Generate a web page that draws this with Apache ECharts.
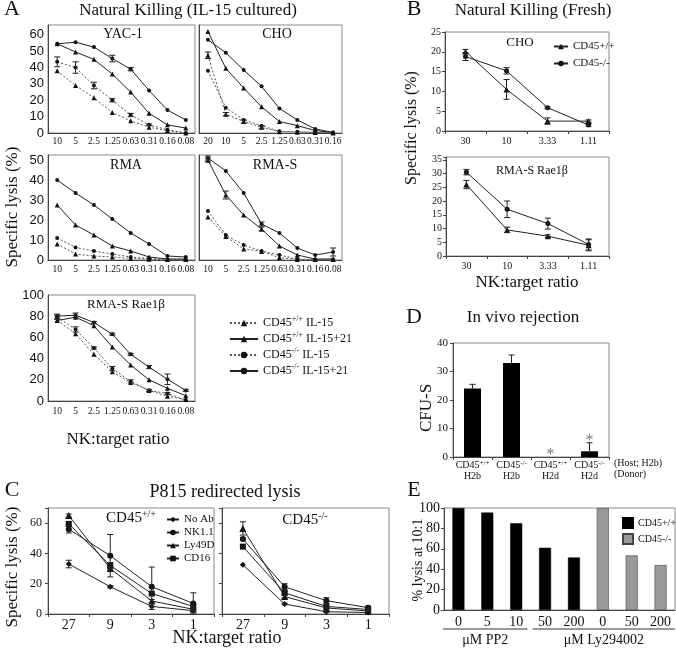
<!DOCTYPE html>
<html><head><meta charset="utf-8">
<script src="https://cdn.jsdelivr.net/npm/echarts@6/dist/echarts.min.js"></script>
<style>html,body{margin:0;background:#fff}#c{width:676px;height:648px}</style>
</head><body><div id="c"></div>
<script>
const SERIF = "'Liberation Serif','Times New Roman',serif";
const SANS = "'Liberation Sans Narrow','Liberation Sans',Arial,sans-serif";

// ---------- Panel A data ----------
const aNames = ['CD45+/+ IL-15','CD45+/+ IL-15+21','CD45-/- IL-15','CD45-/- IL-15+21'];
const aCats = ['10','5','2.5','1.25','0.63','0.31','0.16','0.08'];
const aCatsCHO = ['20','10','5','2.5','1.25','0.63','0.31','0.16'];
// order: WT IL-15, WT IL-15+21, KO IL-15, KO IL-15+21
const yacWT15   = [38, 29, 21.5, 12.5, 7.5, 3.5, 1.5, 0];
const yacWT1521 = [54.5, 49.5, 45, 36, 25, 12, 5, 3];
const yacKO15   = [43.5, 40, 29, 20, 11, 5, 2, 0];
const yacKO1521 = [54.5, 55.5, 52.5, 45.5, 39, 26, 14, 8];
const yacErrKO15   = [3, 3.5, 2, 1, 1, 0.5, 0, 0];
const yacErrKO1521 = [0, 0, 0, 2, 1, 0, 0, 0];
const choWT15   = [47.5, 11.5, 7, 3.5, 0.8, 0.5, 0.3, 0];
const choWT1521 = [62, 39.5, 27.5, 16, 7, 4.5, 1.5, 0.3];
const choKO15   = [38, 15.5, 8, 4.5, 1, 0.8, 0.5, 0];
const choKO1521 = [57, 49, 38.5, 28.5, 15, 8, 2.5, 0.3];
const choErrWT15 = [2, 1, 1, 1, 0, 0, 0, 0];
const rmaWT15   = [8, 3, 2, 1.5, 0.8, 0.4, 0.2, 0.2];
const rmaWT1521 = [27.5, 17.5, 12.5, 7, 4.5, 1.5, 0.5, 0.5];
const rmaKO15   = [11, 6.3, 4.5, 3, 1.5, 0.7, 0.3, 0.3];
const rmaKO1521 = [40, 33.5, 27.5, 20.5, 13.5, 8, 2, 1.5];
const rmasWT15   = [21.5, 11.8, 5.5, 4.3, 1.2, 0.3, 0.2, 0.2];
const rmasWT1521 = [50, 32.5, 22.5, 15.5, 7, 2.5, 0.5, 0.5];
const rmasKO15   = [24.5, 12.5, 7.5, 4.5, 2.5, 0.5, 0.3, 0.3];
const rmasKO1521 = [51, 44.5, 33.5, 18, 13.5, 6, 2.5, 4];
const rmasErrWT1521 = [1, 2, 0, 1, 0, 0, 0, 0];
const rmasErrKO1521 = [1, 0, 0, 1, 0, 0, 0, 2];
const raeWT15   = [76, 63.5, 44, 27.5, 17.5, 10, 4.5, 1.3];
const raeWT1521 = [76, 79, 71, 51, 34, 20, 12, 5];
const raeKO15   = [79, 67.5, 50, 30.5, 18.5, 10, 7, 0.6];
const raeKO1521 = [80, 81, 74, 63, 44, 32, 20.5, 10];
const raeErrKO15   = [2, 2.5, 1, 2, 1.5, 1, 1, 0];
const raeErrKO1521 = [2, 2, 1, 1, 1, 1.5, 5, 1];

// ---------- Panel B data ----------
const bNames = ['CD45+/+', 'CD45-/-'];
const bCats = ['30', '10', '3.33', '1.11'];
const bChoWT = [20.1, 10.5, 2.5, 2.5];
const bChoWTErr = [0.5, 2.5, 0.8, 0.3];
const bChoKO = [18.8, 15.2, 5.9, 1.5];
const bChoKOErr = [1, 0.8, 0.2, 0.3];
const bRaeWT = [26, 9.5, 7.2, 3.9];
const bRaeWTErr = [1.5, 1, 0.5, 2];
const bRaeKO = [30.5, 17, 11.8, 4.2];
const bRaeKOErr = [1, 3, 2, 2];

// ---------- Panel C data ----------
const cNames = ['No Ab', 'NK1.1', 'Ly49D', 'CD16'];
const cCats = ['27', '9', '3', '1'];
const cWT = [[33, 18, 5, 2.2], [56, 38.5, 18, 7], [65, 30, 8.6, 3.1], [59.5, 32, 13.5, 5]];
const cWTErr = [[2.5, 0.8, 2, 0.5], [2.5, 14, 13, 7], [1, 1, 1, 0.5], [1.5, 2, 1, 0.5]];
const cKO = [[32.5, 6.6, 1.5, 1], [49.5, 18, 8.8, 4.2], [56.5, 11.5, 4, 2], [44.5, 14, 5, 3]];
const cKOErr = [[0, 0.5, 0.5, 0], [1, 2, 2, 1], [4.4, 1, 0.5, 0.3], [0, 1, 1, 0.5]];

// ---------- Panel D data ----------
const dHost = ['+/+', '-/-', '+/+', '-/-'];
const dDonor = ['H2b', 'H2b', 'H2d', 'H2d'];
const dValues = [24, 33, 0, 2];
const dErr = [1.5, 2.8, 0, 3];
const dSig = [0, 0, 1, 1];

// ---------- Panel E data ----------
const eNames = ['CD45+/+', 'CD45-/-'];
const eCats = ['0', '5', '10', '50', '200', '0', '50', '200'];
const eWT = [100, 95.5, 85, 61, 51.5, '-', '-', '-'];
const eKO = ['-', '-', '-', '-', '-', 100, 53.5, 44];
const eGroups = [{label: 'μM PP2', from: 0, to: 2}, {label: 'μM Ly294002', from: 3, to: 7}];

// ---------- builders ----------
const grids = [], xAxes = [], yAxes = [], series = [];
function panel(rect, cats, yMax, yInt, o) {
  const i = grids.length;
  grids.push(Object.assign({show: true, borderColor: '#8a8a8a', borderWidth: 1}, rect));
  xAxes.push({type: 'category', gridIndex: i, data: cats, boundaryGap: true,
    axisLine: {lineStyle: {color: '#444', width: 1}},
    axisTick: {show: !!o.xTick, length: 3, lineStyle: {color: '#444'}},
    axisLabel: {interval: 0, fontFamily: o.xFont || SERIF, fontSize: o.xSize || 10, color: '#111',
      margin: o.xMargin != null ? o.xMargin : 3, formatter: o.xFmt, rich: o.xRich}});
  yAxes.push({type: 'value', gridIndex: i, min: 0, max: yMax, interval: yInt, splitLine: {show: false},
    axisLine: {show: true, lineStyle: {color: '#444'}},
    axisTick: {show: !!o.yTick, length: 3, lineStyle: {color: '#444'}},
    axisLabel: {show: o.yLabels !== false, fontFamily: o.yFont || SERIF, fontSize: o.ySize || 11, color: '#111',
      margin: o.yMargin != null ? o.yMargin : 4,
      formatter: v => (Math.abs(v / yInt - Math.round(v / yInt)) < 1e-9 ? String(v) : '')}});
  return i;
}
function errSeries(gi, data, err, upOnly, sig) {
  return {type: 'custom', xAxisIndex: gi, yAxisIndex: gi, silent: true, animation: false, z: 5,
    encode: {x: 0, y: 1},
    data: data.map((v, j) => [j, v === '-' ? 0 : v, err ? err[j] : 0, sig ? sig[j] : 0]),
    renderItem: (p, api) => {
      const x = api.value(0), v = api.value(1), e = api.value(2), s = api.value(3);
      const ch = [];
      const top = api.coord([x, v + e]);
      const st = {stroke: '#222', lineWidth: 1};
      if (e > 0) {
        const bot = api.coord([x, upOnly ? v : Math.max(0, v - e)]);
        ch.push({type: 'line', shape: {x1: top[0], y1: top[1], x2: bot[0], y2: bot[1]}, style: st});
        ch.push({type: 'line', shape: {x1: top[0] - 3, y1: top[1], x2: top[0] + 3, y2: top[1]}, style: st});
        if (!upOnly) ch.push({type: 'line', shape: {x1: bot[0] - 3, y1: bot[1], x2: bot[0] + 3, y2: bot[1]}, style: st});
      }
      if (s) ch.push({type: 'text', x: top[0], y: top[1] - 2,
        style: {text: '*', font: '16px ' + SERIF, fill: '#777', align: 'center', verticalAlign: 'middle',
                textAlign: 'center', textVerticalAlign: 'middle'}});
      return {type: 'group', children: ch};
    }};
}
function line(gi, name, data, sym, dashed, err, size) {
  series.push({type: 'line', name, xAxisIndex: gi, yAxisIndex: gi, data, symbol: sym,
    symbolSize: size || (sym === 'triangle' ? 5 : 4), animation: false, z: 3,
    lineStyle: {color: dashed ? '#555' : '#222', width: 1, type: dashed ? [2, 2] : 'solid'},
    itemStyle: {color: '#111'}});
  if (err) series.push(errSeries(gi, data, err, false));
}
const aSym = ['triangle', 'triangle', 'circle', 'circle'];
const aDash = [true, false, true, false];
function aPanel(rect, cats, yMax, yInt, sets, errs, showY, xMargin) {
  const gi = panel(rect, cats, yMax, yInt, {yLabels: showY, yFont: SANS, ySize: 13, yMargin: 4,
    xSize: 9.5, xMargin: xMargin});
  sets.forEach((d, k) => line(gi, aNames[k], d, aSym[k], aDash[k], errs ? errs[k] : null));
  return gi;
}
aPanel({left: 48, top: 25, width: 147, height: 108}, aCats, 66, 10,
  [yacWT15, yacWT1521, yacKO15, yacKO1521], [null, null, yacErrKO15, yacErrKO1521], true, 3);
aPanel({left: 199, top: 25, width: 143, height: 108}, aCatsCHO, 66, 10,
  [choWT15, choWT1521, choKO15, choKO1521], [choErrWT15, null, null, null], false, 3);
aPanel({left: 48, top: 155, width: 147, height: 105}, aCats, 52.5, 10,
  [rmaWT15, rmaWT1521, rmaKO15, rmaKO1521], null, true, 4);
aPanel({left: 199, top: 155, width: 143, height: 105}, aCats, 52.5, 10,
  [rmasWT15, rmasWT1521, rmasKO15, rmasKO1521], [null, rmasErrWT1521, null, rmasErrKO1521], false, 4);
aPanel({left: 48, top: 295, width: 147, height: 106}, aCats, 100, 20,
  [raeWT15, raeWT1521, raeKO15, raeKO1521], [null, null, raeErrKO15, raeErrKO1521], true, 5);

// Panel B
function bPanel(rect, yMax, wt, wtErr, ko, koErr) {
  const gi = panel(rect, bCats, yMax, 5, {xTick: true, yTick: true, ySize: 10, xSize: 10, xMargin: 5, yMargin: 4});
  line(gi, bNames[0], wt, 'triangle', false, wtErr, 6);
  line(gi, bNames[1], ko, 'circle', false, koErr, 5);
}
bPanel({left: 445, top: 32, width: 164, height: 99}, 25, bChoWT, bChoWTErr, bChoKO, bChoKOErr);
bPanel({left: 446, top: 157, width: 163, height: 99}, 36, bRaeWT, bRaeWTErr, bRaeKO, bRaeKOErr);

// Panel D
const dCats = dHost.map((h, i) => h + '|' + dDonor[i]);
const dGi = panel({left: 453, top: 343, width: 156, height: 114}, dCats, 40, 10, {
  xTick: true, yTick: true, ySize: 11, xSize: 10, xMargin: 3, yMargin: 5,
  xFmt: v => { const p = v.split('|'); return '{a|CD45}{s|' + p[0] + '}\n{a|' + p[1] + '}'; },
  xRich: {a: {fontFamily: SERIF, fontSize: 10, color: '#111', lineHeight: 11},
          s: {fontFamily: SERIF, fontSize: 7, color: '#111', verticalAlign: 'top', lineHeight: 8}}});
series.push({type: 'bar', xAxisIndex: dGi, yAxisIndex: dGi, data: dValues, barWidth: 17, animation: false,
  itemStyle: {color: '#000'}, z: 2});
series.push(errSeries(dGi, dValues, dErr, true, dSig));

// Panel E
const eGi = panel({left: 444, top: 508, width: 231, height: 102}, eCats, 100, 20, {
  xTick: false, yTick: true, ySize: 14, xSize: 14, xMargin: 5, yMargin: 4});
series.push({type: 'bar', name: 'E ' + eNames[0], xAxisIndex: eGi, yAxisIndex: eGi, data: eWT, barWidth: 12,
  barGap: '-100%', animation: false, itemStyle: {color: '#000', borderColor: '#000', borderWidth: 0.5}});
series.push({type: 'bar', name: 'E ' + eNames[1], xAxisIndex: eGi, yAxisIndex: eGi, data: eKO, barWidth: 12,
  barGap: '-100%', animation: false, itemStyle: {color: '#9a9a9a', borderColor: '#444', borderWidth: 0.6}});

// Panel C
const cSym = ['diamond', 'circle', 'triangle', 'rect'];
const cSize = [6, 6, 7, 6];
function cPanel(rect, sets, errs, showY) {
  const gi = panel(rect, cCats, 70, 20, {xTick: true, yTick: true, yLabels: showY, ySize: 12, xSize: 14, xMargin: 4, yMargin: 6});
  sets.forEach((d, k) => line(gi, cNames[k], d, cSym[k], false, errs[k], cSize[k]));
}
cPanel({left: 48, top: 508, width: 166, height: 106}, cWT, cWTErr, true);
cPanel({left: 222, top: 508, width: 167, height: 106}, cKO, cKOErr, false);

// ---------- legends ----------
const supRich = {a: {fontFamily: SERIF, fontSize: 12, color: '#111', lineHeight: 16},
                 s: {fontFamily: SERIF, fontSize: 8, color: '#111', verticalAlign: 'top', lineHeight: 10}};
const legends = [
  {data: aNames, orient: 'vertical', left: 224, top: 310, itemWidth: 28, itemHeight: 8, itemGap: 2,
   selectedMode: false, textStyle: {fontFamily: SERIF, fontSize: 12, color: '#111', rich: supRich},
   formatter: n => { const m = n.match(/^CD45(\S+)\s(.+)$/); return '{a|CD45}{s|' + m[1] + '}{a| ' + m[2] + '}'; }},
  {data: bNames, orient: 'vertical', left: 548, top: 36, itemWidth: 14, itemHeight: 7, itemGap: 6,
   selectedMode: false, textStyle: {fontFamily: SERIF, fontSize: 11, color: '#111'}},
  {data: cNames, orient: 'vertical', left: 161, top: 509, itemWidth: 12, itemHeight: 7, itemGap: 2,
   selectedMode: false, textStyle: {fontFamily: SERIF, fontSize: 11, color: '#111'}},
  {data: eNames.map(n => 'E ' + n), orient: 'vertical', left: 617, top: 512, itemWidth: 10, itemHeight: 10, itemGap: 4,
   icon: 'rect', selectedMode: false, textStyle: {fontFamily: SERIF, fontSize: 10, color: '#111'},
   formatter: n => n.slice(2)}
];

// ---------- text ----------
function T(text, x, y, size, o) {
  o = o || {};
  return {type: 'text', x, y, rotation: o.rot || 0, z: 10,
    style: {text, font: size + 'px ' + SERIF, fill: o.fill || '#111', align: o.align || 'center',
      verticalAlign: 'middle', textAlign: o.align || 'center', textVerticalAlign: 'middle', rich: o.rich}};
}
const R = Math.PI / 2;
const bigRich = {a: {fontFamily: SERIF, fontSize: 15, color: '#111', lineHeight: 18},
                 s: {fontFamily: SERIF, fontSize: 10, color: '#111', verticalAlign: 'top', lineHeight: 11}};
const graphics = [
  T('A', 12, 9, 22), T('Natural Killing (IL-15 cultured)', 188, 11, 17),
  T('B', 414, 9, 22), T('Natural Killing (Fresh)', 533, 11, 17),
  T('D', 414, 317, 22), T('In vivo rejection', 523, 318, 17),
  T('C', 12, 490, 22), T('P815 redirected lysis', 225, 492, 18),
  T('E', 414, 490, 22),
  T('Specific lysis (%)', 13, 207, 17, {rot: R}),
  T('Specific lysis (%)', 412, 128, 16, {rot: R}),
  T('CFU-S', 427, 408, 17, {rot: R}),
  T('% lysis at 10:1', 418, 560, 14, {rot: R}),
  T('Specific lysis (%)', 13, 567, 17, {rot: R}),
  T('NK:target ratio', 118, 440, 17), T('NK:target ratio', 527, 283, 17), T('NK:target ratio', 227, 638, 18),
  T('YAC-1', 123, 34, 14), T('CHO', 277, 34, 14), T('RMA', 126, 165, 14), T('RMA-S', 275, 165, 14),
  T('RMA-S Rae1β', 126, 305, 13), T('CHO', 520, 43, 13), T('RMA-S Rae1β', 532, 171, 12),
  T('{a|CD45}{s|+/+}', 131, 518, 15, {rich: bigRich}),
  T('{a|CD45}{s|-/-}', 305, 520, 15, {rich: bigRich}),
  T('(Host; H2b)', 638, 463, 10), T('(Donor)', 630, 474, 10)
];

const chart = echarts.init(document.getElementById('c'));
chart.setOption({animation: false, backgroundColor: '#fff', grid: grids, xAxis: xAxes, yAxis: yAxes,
  series, legend: legends, graphic: graphics});

// group labels under panel E
const eRect = grids[eGi];
const band = eRect.width / eCats.length;
eGroups.forEach((g, k) => {
  const c0 = chart.convertToPixel({xAxisIndex: eGi}, g.from);
  const c1 = chart.convertToPixel({xAxisIndex: eGi}, g.to);
  const x0 = c0 - band / 2 + (k === 0 ? -1 : 2), x1 = c1 + band / 2 - (k === eGroups.length - 1 ? 0 : 3);
  graphics.push({type: 'line', z: 10, shape: {x1: x0, y1: 629, x2: x1, y2: 629}, style: {stroke: '#333', lineWidth: 1}});
  graphics.push(T(g.label, (x0 + x1) / 2, 640, 14));
});
chart.setOption({graphic: graphics});
</script></body></html>
